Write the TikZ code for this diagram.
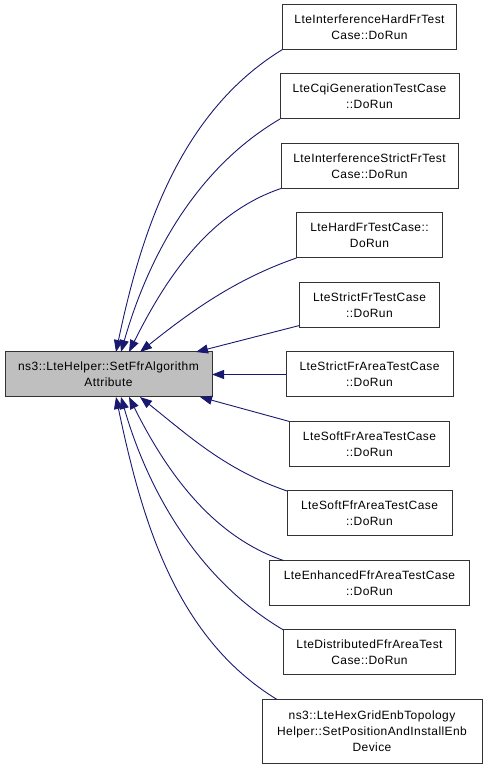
\documentclass[tikz,border=0pt]{standalone}
\usepackage{fontspec}
\setmainfont{Liberation Sans}[LetterSpace=3.5]
\usepackage{tikz}
\usetikzlibrary{arrows.meta, positioning, calc}
\usepackage{xcolor}
\definecolor{edgeblue}{HTML}{191970}

\begin{document}
\begin{tikzpicture}[
  x=1pt, y=1pt,
  box/.style   = {draw=black!80, line width=1pt, rectangle, minimum height=45pt,
                  inner sep=0pt, outer sep=0pt, align=center,
                  font=\fontsize{12}{16}\selectfont},
  fnbox/.style = {box, fill=black!25},
  arr/.style   = {{Triangle[length=12pt, width=9pt]}-, line width=0.9pt, draw=edgeblue},
]
\useasboundingbox (0,0) rectangle (483,768);

% ── Called function (left) ───────────────────────────────────────────────────
\node[fnbox, minimum width=207pt] (main) at (108.5,393.5) {ns3::LteHelper::SetFfrAlgorithm\\Attribute};

% ── Callers (right column) ───────────────────────────────────────────────────
\node[box, minimum width=167pt, right=74pt of main]  (b6)  {LteStrictFrAreaTestCase\\::DoRun};
\node[box, minimum width=140pt, above=24.5pt of b6]  (b5)  {LteStrictFrTestCase\\::DoRun};
\node[box, minimum width=146pt, above=24.5pt of b5]  (b4)  {LteHardFrTestCase::\\DoRun};
\node[box, minimum width=177pt, above=24.5pt of b4]  (b3)  {LteInterferenceStrictFrTest\\Case::DoRun};
\node[box, minimum width=179pt, above=24.5pt of b3]  (b2)  {LteCqiGenerationTestCase\\::DoRun};
\node[box, minimum width=174pt, above=24.5pt of b2]  (b1)  {LteInterferenceHardFrTest\\Case::DoRun};
\node[box, minimum width=160pt, below=24.5pt of b6]  (b7)  {LteSoftFrAreaTestCase\\::DoRun};
\node[box, minimum width=165pt, below=24.5pt of b7]  (b8)  {LteSoftFfrAreaTestCase\\::DoRun};
\node[box, minimum width=200pt, below=24.5pt of b8]  (b9)  {LteEnhancedFfrAreaTestCase\\::DoRun};
\node[box, minimum width=172pt, below=24.5pt of b9]  (b10) {LteDistributedFfrAreaTest\\Case::DoRun};
\node[box, minimum width=220pt, minimum height=64pt, below=24.5pt of b10, xshift=2.5pt] (b11)
  {ns3::LteHexGridEnbTopology\\Helper::SetPositionAndInstallEnb\\Device};

\coordinate (b9s)  at ([xshift=14pt]b9.north west);
\coordinate (b11s) at ([xshift=15pt]b11.north west);

% ── Curved edges into the top side ───────────────────────────────────────────
\foreach \src/\dx/\ax/\ay/\bx/\by in {b1.south west/7.5/-103/-63/25/119, b2.south west/12.5/-85/-50/27/94,
                                      b3.south west/20.5/-74/-25/35/70, b4.south west/31.5/-61/-21/50/40}
  \draw[arr] ([xshift=\dx pt]main.north) .. controls +(\bx,\by) and +(\ax,\ay) .. (\src);

% ── Curved edges into the bottom side ────────────────────────────────────────
\foreach \src/\dx/\ax/\ay/\bx/\by in {b11s/7.5/-103/63/25/-119, b10.north west/12.5/-85/50/27/-94,
                                      b9s/20.5/-74/25/35/-70, b8.north west/31.5/-61/21/50/-40}
  \draw[arr] ([xshift=\dx pt]main.south) .. controls +(\bx,\by) and +(\ax,\ay) .. (\src);

% ── Near-straight edges ──────────────────────────────────────────────────────
\draw[arr] ([xshift=87.5pt]main.north) -- ([yshift=2pt]b5.south west);
\draw[arr] (main) -- (b6);
\draw[arr] ([xshift=91.5pt]main.south) -- (b7.north west);
\end{tikzpicture}
\end{document}
